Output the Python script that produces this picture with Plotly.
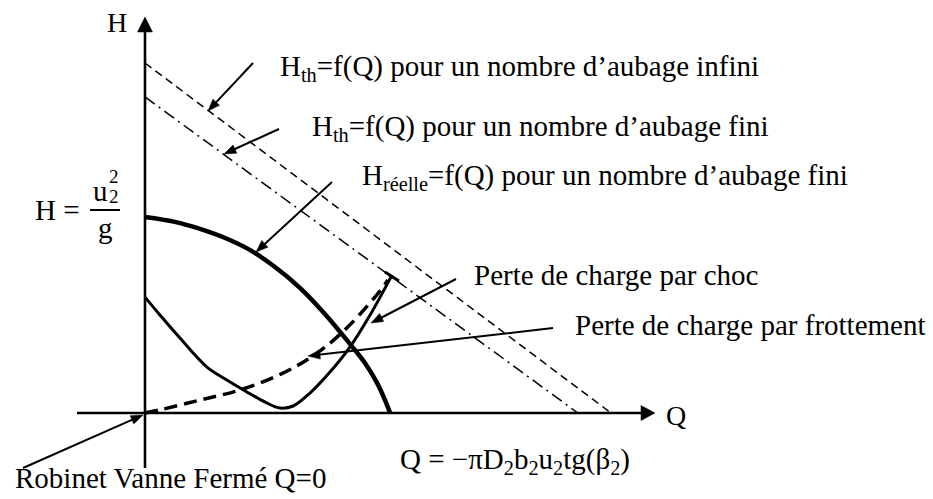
import math
import plotly.graph_objects as go

W, H = 933, 499
# pixel frame of the sketch: where the Q and H axes cross, and px per unit
X0, Y0 = 145, 413
SX, SY = 46.6, 35.0


def qx(px):
    return (px - X0) / SX


def hy(py):
    return (Y0 - py) / SY


# theoretical head, infinite number of blades
q_inf = [0.0, 10.0]
h_inf = [10.0, 0.0]
# theoretical head, finite number of blades
q_fin = [0.0, 9.29]
h_fin = [9.03, 0.0]
# real head curve
q_reel = [0.0, 0.64, 1.18, 1.72, 2.25, 2.79, 3.33, 3.86, 4.40, 4.72, 4.98, 5.15, 5.26]
h_reel = [5.60, 5.46, 5.26, 5.00, 4.66, 4.17, 3.57, 2.83, 1.97, 1.43, 0.86, 0.37, 0.0]
# shock losses
q_choc = [0.0, 0.32, 0.75, 1.33, 1.72, 2.15, 2.58, 2.90, 3.18, 3.54, 3.97, 4.40, 4.83, 5.30]
h_choc = [3.31, 2.80, 2.14, 1.31, 0.97, 0.63, 0.31, 0.14, 0.20, 0.57, 1.17, 1.89, 2.80, 3.94]
# friction losses
q_frot = [0.0, 0.32, 1.18, 2.04, 2.96, 3.69, 4.33, 5.11, 5.21]
h_frot = [0.0, 0.09, 0.37, 0.66, 1.14, 1.71, 2.43, 3.60, 3.80]
# short bar closing the loss curves
q_bar = [5.15, 5.45]
h_bar = [4.03, 3.77]

SERIF = "Liberation Serif"
FS = 29
INK = "#000000"

fig = go.Figure()


def curve(q, h, width, dash="solid", spline=True):
    line = dict(color=INK, width=width, dash=dash)
    if spline:
        line.update(shape="spline", smoothing=1.0)
    fig.add_trace(go.Scatter(x=q, y=h, mode="lines", line=line, hoverinfo="skip"))


curve(q_inf, h_inf, 1.5, "8px,5px", spline=False)
curve(q_fin, h_fin, 1.5, "12px,5px,2px,5px", spline=False)
curve(q_reel, h_reel, 4.5)
curve(q_choc, h_choc, 3)
curve(q_frot, h_frot, 3.5, "13px,7px")
curve(q_bar, h_bar, 3, spline=False)


def arrow(tail, tip, width=2.0, length=12, spread=9):
    """Straight shaft plus a filled triangular head, laid out in screen px."""
    dx, dy = tip[0] - tail[0], tip[1] - tail[1]
    d = math.hypot(dx, dy)
    ux, uy = dx / d, dy / d
    nx, ny = -uy, ux
    bx, by = tip[0] - length * ux, tip[1] - length * uy
    # shaft stops inside the head
    sx, sy = tip[0] - 0.5 * length * ux, tip[1] - 0.5 * length * uy
    fig.add_trace(go.Scatter(
        x=[qx(tail[0]), qx(sx)], y=[hy(tail[1]), hy(sy)],
        mode="lines", hoverinfo="skip", line=dict(color=INK, width=width)))
    half = spread / 2
    hx = [tip[0], bx + half * nx, bx - half * nx, tip[0]]
    hyy = [tip[1], by + half * ny, by - half * ny, tip[1]]
    fig.add_trace(go.Scatter(
        x=[qx(v) for v in hx], y=[hy(v) for v in hyy],
        mode="lines", fill="toself", fillcolor=INK, hoverinfo="skip",
        line=dict(color=INK, width=0.5)))


# axes with arrow tips
arrow((145, 468), (145, 17), width=2.6, length=15, spread=15)
arrow((77, 413), (655, 413), width=2.6, length=14, spread=15)

# call-out arrows
arrow((253, 63), (208, 111))
arrow((279, 129), (224, 154))
arrow((332, 182), (256, 252))
arrow((456, 279), (371, 323))
arrow((553, 328), (308, 356))
arrow((23, 468), (143, 415))

ann = []


def label(px, py, text, size=FS, xanchor="left"):
    ann.append(dict(x=qx(px), y=hy(py), xref="x", yref="y", text=text,
                    showarrow=False, xanchor=xanchor, yanchor="middle",
                    font=dict(family=SERIF, size=size, color=INK)))


# axis names
label(117, 22, "H", size=28, xanchor="center")
label(664, 415, "Q", size=28)

# curve captions
label(278, 68, "H<sub>th</sub>=f(Q) pour un nombre d’aubage infini")
label(310, 128, "H<sub>th</sub>=f(Q) pour un nombre d’aubage fini")
label(360, 177, "H<sub>réelle</sub>=f(Q) pour un nombre d’aubage fini")
label(472, 275, "Perte de charge par choc")
label(573, 325, "Perte de charge par frottement")
label(13, 478, "Robinet Vanne Fermé Q=0")

# shut-off head  H = u2^2 / g
label(33, 210, "H =", size=29)
label(100, 191, "u", size=29, xanchor="center")
label(107, 176, "2", size=19)
label(107, 196, "2", size=19)
label(105, 228, "g", size=29, xanchor="center")

# zero-head flow rate
label(398, 461, "Q = −πD<sub>2</sub>b<sub>2</sub>u<sub>2</sub>tg(β<sub>2</sub>)", size=29)

fig.update_layout(
    width=W, height=H, autosize=False,
    margin=dict(l=0, r=0, t=0, b=0, pad=0),
    paper_bgcolor="white", plot_bgcolor="white",
    font=dict(family=SERIF, size=FS, color=INK),
    showlegend=False,
    annotations=ann,
    shapes=[dict(type="line", xref="x", yref="y",
                 x0=qx(90), x1=qx(120), y0=hy(210), y1=hy(210),
                 line=dict(color=INK, width=2))],
    xaxis=dict(range=[qx(0), qx(W)], visible=False, fixedrange=True),
    yaxis=dict(range=[hy(H), hy(0)], visible=False, fixedrange=True),
)

fig.write_html("out.html")
